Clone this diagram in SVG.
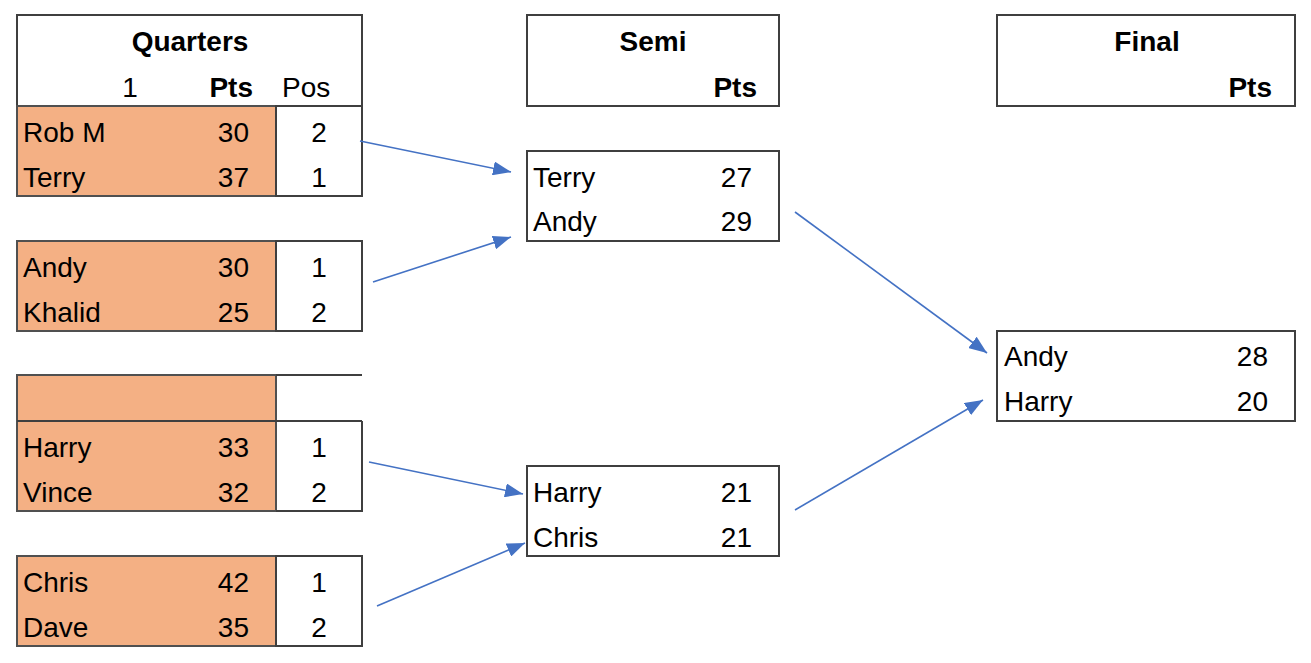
<svg xmlns="http://www.w3.org/2000/svg" width="1311" height="663" viewBox="0 0 1311 663">
<defs>
<style>
text{font-family:"Liberation Sans",Arial,sans-serif;font-size:28px;fill:#000}
.b{font-weight:bold}
.r{text-anchor:end}
.m{text-anchor:middle}
.box{fill:#fff;stroke:#3f3f3f;stroke-width:2}
.or{fill:#F4B084;stroke:#505050;stroke-width:2}
.ln{stroke:#3f3f3f;stroke-width:2;fill:none}
.arr{stroke:#4472C4;stroke-width:1.6;fill:none;marker-end:url(#ah)}
</style>
<marker id="ah" viewBox="0 0 10 10" refX="10" refY="5" markerWidth="18" markerHeight="14" markerUnits="userSpaceOnUse" orient="auto" preserveAspectRatio="none">
<path d="M0,0 L10,5 L0,10 z" fill="#4472C4"/>
</marker>
</defs>
<rect width="1311" height="663" fill="#fff"/>

<g id="quarters-header">
<rect class="box" x="17" y="15" width="345" height="91"/>
<text class="b m" x="190" y="51">Quarters</text>
<text class="m" x="130" y="97">1</text>
<text class="b r" x="253" y="97">Pts</text>
<text x="282" y="97">Pos</text>
</g>

<g id="q1">
<rect class="or" x="17" y="106" width="259" height="90"/>
<rect class="box" x="276" y="106" width="86" height="90"/>
<text x="23" y="142">Rob M</text><text class="r" x="249" y="142">30</text><text class="m" x="319" y="142">2</text>
<text x="23" y="187">Terry</text><text class="r" x="249" y="187">37</text><text class="m" x="319" y="187">1</text>
</g>

<g id="q2">
<rect class="or" x="17" y="241" width="259" height="90"/>
<rect class="box" x="276" y="241" width="86" height="90"/>
<text x="23" y="277">Andy</text><text class="r" x="249" y="277">30</text><text class="m" x="319" y="277">1</text>
<text x="23" y="322">Khalid</text><text class="r" x="249" y="322">25</text><text class="m" x="319" y="322">2</text>
</g>

<g id="q3">
<rect class="or" x="17" y="375" width="259" height="136"/>
<path class="ln" d="M276,375 H362 M17,421 H362 M362,421 V511 H276"/>
<text x="23" y="457">Harry</text><text class="r" x="249" y="457">33</text><text class="m" x="319" y="457">1</text>
<text x="23" y="502">Vince</text><text class="r" x="249" y="502">32</text><text class="m" x="319" y="502">2</text>
</g>

<g id="q4">
<rect class="or" x="17" y="556" width="259" height="90"/>
<rect class="box" x="276" y="556" width="86" height="90"/>
<text x="23" y="592">Chris</text><text class="r" x="249" y="592">42</text><text class="m" x="319" y="592">1</text>
<text x="23" y="637">Dave</text><text class="r" x="249" y="637">35</text><text class="m" x="319" y="637">2</text>
</g>

<g id="semi-header">
<rect class="box" x="527" y="15" width="252" height="91"/>
<text class="b m" x="653" y="51">Semi</text>
<text class="b r" x="757" y="97">Pts</text>
</g>

<g id="semi1">
<rect class="box" x="527" y="151" width="252" height="90"/>
<text x="533" y="187">Terry</text><text class="r" x="752" y="187">27</text>
<text x="533" y="231">Andy</text><text class="r" x="752" y="231">29</text>
</g>

<g id="semi2">
<rect class="box" x="527" y="466" width="252" height="90"/>
<text x="533" y="502">Harry</text><text class="r" x="752" y="502">21</text>
<text x="533" y="547">Chris</text><text class="r" x="752" y="547">21</text>
</g>

<g id="final-header">
<rect class="box" x="997" y="15" width="298" height="91"/>
<text class="b m" x="1147" y="51">Final</text>
<text class="b r" x="1272" y="97">Pts</text>
</g>

<g id="final">
<rect class="box" x="997" y="331" width="298" height="90"/>
<text x="1004" y="366">Andy</text><text class="r" x="1268" y="366">28</text>
<text x="1004" y="411">Harry</text><text class="r" x="1268" y="411">20</text>
</g>

<g id="connectors">
<line class="arr" x1="360" y1="141" x2="511" y2="172"/>
<line class="arr" x1="373" y1="282" x2="511" y2="237"/>
<line class="arr" x1="369" y1="462" x2="523" y2="494"/>
<line class="arr" x1="377" y1="606" x2="525" y2="543"/>
<line class="arr" x1="795" y1="212" x2="987" y2="353"/>
<line class="arr" x1="795" y1="510" x2="983" y2="400"/>
</g>
</svg>
